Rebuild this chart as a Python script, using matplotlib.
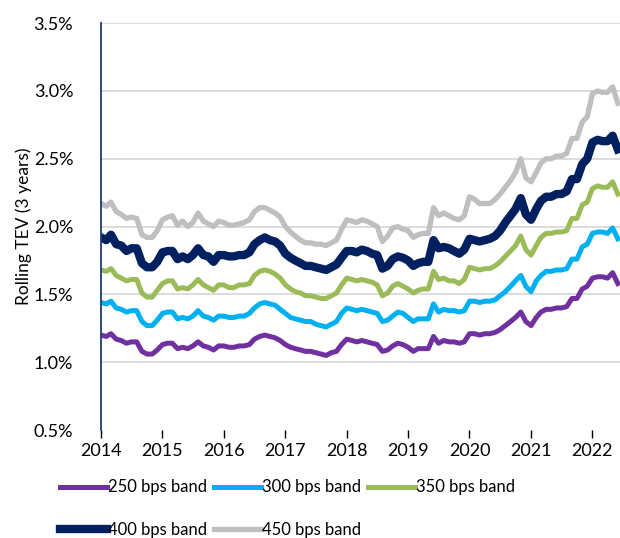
import numpy as np
import pandas as pd
import matplotlib
matplotlib.use("Agg")
import matplotlib.pyplot as plt
import matplotlib.dates as mdates
from matplotlib.ticker import FuncFormatter

plt.rcParams["font.family"] = ["Lato", "DejaVu Sans"]

# monthly rolling 3y tracking error (%), Jan 2014 - Jun 2022
months = pd.date_range("2014-01-01", periods=102, freq="MS")

tev_250 = [
    1.20, 1.19, 1.21, 1.17, 1.16, 1.14, 1.15, 1.15, 1.08, 1.06, 1.06, 1.09,
    1.13, 1.14, 1.14, 1.10, 1.11, 1.10, 1.12, 1.15, 1.12, 1.11, 1.09, 1.12,
    1.12, 1.11, 1.11, 1.12, 1.12, 1.13, 1.17, 1.19, 1.20, 1.19, 1.18, 1.16,
    1.13, 1.11, 1.10, 1.09, 1.08, 1.08, 1.07, 1.06, 1.05, 1.07, 1.08, 1.13,
    1.17, 1.16, 1.15, 1.16, 1.15, 1.14, 1.13, 1.08, 1.09, 1.12, 1.14, 1.13,
    1.11, 1.08, 1.10, 1.10, 1.10, 1.19, 1.14, 1.16, 1.15, 1.15, 1.14, 1.15,
    1.21, 1.21, 1.20, 1.21, 1.21, 1.22, 1.24, 1.27, 1.30, 1.33, 1.37, 1.30,
    1.27, 1.33, 1.37, 1.39, 1.39, 1.40, 1.40, 1.41, 1.47, 1.47, 1.54, 1.56,
    1.62, 1.63, 1.63, 1.62, 1.66, 1.58,
]
tev_300 = [
    1.44, 1.43, 1.45, 1.40, 1.39, 1.37, 1.38, 1.38, 1.30, 1.27, 1.27, 1.31,
    1.36, 1.37, 1.37, 1.32, 1.33, 1.32, 1.34, 1.38, 1.34, 1.33, 1.31, 1.34,
    1.34, 1.33, 1.33, 1.34, 1.34, 1.36, 1.40, 1.43, 1.44, 1.43, 1.42, 1.39,
    1.36, 1.33, 1.32, 1.31, 1.30, 1.30, 1.28, 1.27, 1.26, 1.28, 1.30, 1.36,
    1.40, 1.39, 1.38, 1.39, 1.38, 1.37, 1.36, 1.30, 1.31, 1.34, 1.37, 1.36,
    1.33, 1.30, 1.32, 1.32, 1.32, 1.43, 1.37, 1.39, 1.38, 1.38, 1.37, 1.38,
    1.45, 1.45, 1.44, 1.45, 1.45, 1.46, 1.49, 1.52, 1.56, 1.60, 1.64, 1.56,
    1.52, 1.60, 1.64, 1.67, 1.67, 1.68, 1.68, 1.69, 1.76, 1.76, 1.85, 1.87,
    1.95, 1.96, 1.96, 1.95, 1.99, 1.91,
]
tev_350 = [
    1.68, 1.67, 1.69, 1.64, 1.62, 1.60, 1.61, 1.61, 1.51, 1.48, 1.48, 1.53,
    1.58, 1.60, 1.60, 1.54, 1.55, 1.54, 1.57, 1.61, 1.57, 1.55, 1.53, 1.57,
    1.57, 1.55, 1.55, 1.57, 1.57, 1.58, 1.64, 1.67, 1.68, 1.67, 1.65, 1.62,
    1.57, 1.54, 1.52, 1.51, 1.49, 1.49, 1.48, 1.47, 1.47, 1.49, 1.51, 1.57,
    1.62, 1.61, 1.60, 1.61, 1.60, 1.59, 1.57, 1.49, 1.51, 1.56, 1.58, 1.56,
    1.54, 1.51, 1.53, 1.54, 1.54, 1.67, 1.61, 1.62, 1.60, 1.60, 1.58, 1.61,
    1.70, 1.69, 1.68, 1.69, 1.69, 1.71, 1.74, 1.78, 1.82, 1.86, 1.93, 1.83,
    1.79, 1.86, 1.92, 1.95, 1.95, 1.96, 1.96, 1.97, 2.06, 2.06, 2.16, 2.18,
    2.28, 2.30, 2.29, 2.29, 2.33, 2.24,
]
tev_400 = [
    1.92, 1.90, 1.94, 1.87, 1.86, 1.82, 1.84, 1.84, 1.73, 1.70, 1.70, 1.74,
    1.81, 1.82, 1.82, 1.76, 1.78, 1.76, 1.79, 1.84, 1.79, 1.78, 1.74, 1.79,
    1.79, 1.78, 1.78, 1.79, 1.79, 1.81, 1.87, 1.90, 1.92, 1.90, 1.89, 1.86,
    1.80, 1.77, 1.75, 1.73, 1.71, 1.71, 1.70, 1.69, 1.68, 1.70, 1.72, 1.77,
    1.82, 1.82, 1.81, 1.83, 1.82, 1.80, 1.79, 1.69, 1.71, 1.76, 1.78, 1.77,
    1.75, 1.71, 1.73, 1.74, 1.74, 1.90, 1.84, 1.85, 1.84, 1.82, 1.80, 1.83,
    1.91, 1.90, 1.89, 1.90, 1.91, 1.93, 1.97, 2.03, 2.08, 2.13, 2.21, 2.09,
    2.05, 2.13, 2.19, 2.22, 2.22, 2.24, 2.24, 2.26, 2.35, 2.35, 2.46, 2.50,
    2.62, 2.64, 2.63, 2.63, 2.67, 2.57,
]
tev_450 = [
    2.17, 2.15, 2.18, 2.11, 2.09, 2.06, 2.07, 2.06, 1.94, 1.92, 1.92, 1.97,
    2.05, 2.07, 2.08, 2.01, 2.04, 2.00, 2.03, 2.10, 2.04, 2.02, 2.00, 2.04,
    2.03, 2.01, 2.01, 2.02, 2.03, 2.05, 2.11, 2.14, 2.14, 2.12, 2.10, 2.07,
    2.00, 1.96, 1.93, 1.90, 1.88, 1.88, 1.87, 1.87, 1.86, 1.88, 1.90, 1.98,
    2.05, 2.04, 2.03, 2.05, 2.04, 2.02, 2.00, 1.89, 1.93, 1.99, 2.00, 1.98,
    1.97, 1.92, 1.94, 1.95, 1.95, 2.14, 2.08, 2.10, 2.08, 2.06, 2.05, 2.08,
    2.22, 2.20, 2.17, 2.17, 2.17, 2.20, 2.24, 2.29, 2.34, 2.40, 2.50, 2.36,
    2.33, 2.40, 2.47, 2.50, 2.50, 2.52, 2.52, 2.54, 2.65, 2.65, 2.77, 2.81,
    2.98, 3.00, 2.99, 2.99, 3.03, 2.91,
]

labels = ["250 bps band", "300 bps band", "350 bps band", "400 bps band", "450 bps band"]
colors = ["#7030A0", "#00B0F0", "#9BBB59", "#002060", "#BFBFBF"]
widths = [3.6, 3.6, 3.6, 6.0, 3.8]
series = [tev_250, tev_300, tev_350, tev_400, tev_450]

fig = plt.figure(figsize=(6.2, 5.38), dpi=100)
ax = fig.add_axes([0.163, 0.2007, 0.837, 0.7563])

lines = []
for vals, lab, c, lw in zip(series, labels, colors, widths):
    ln, = ax.plot(months, vals, color=c, lw=lw, label=lab, solid_joinstyle="round")
    lines.append(ln)

ax.set_ylim(0.5, 3.5)
ax.set_yticks(np.arange(0.5, 3.51, 0.5))
ax.yaxis.set_major_formatter(FuncFormatter(lambda v, _: f"{v:.1f}%"))
ax.set_xlim(pd.Timestamp("2014-01-01"), pd.Timestamp("2022-06-14"))
ax.xaxis.set_major_locator(mdates.YearLocator())
ax.xaxis.set_major_formatter(mdates.DateFormatter("%Y"))

ax.yaxis.grid(True, color="#D9D9D9", lw=1.3)
ax.set_axisbelow(True)
ax.get_ygridlines()[0].set_visible(False)

for s in ["top", "right", "bottom"]:
    ax.spines[s].set_visible(False)
ax.spines["left"].set_color("#1F3B73")
ax.spines["left"].set_linewidth(1.3)

ax.tick_params(axis="y", length=0, pad=20, labelsize=13)
ax.tick_params(axis="x", length=6, width=1.0, color="#000000", pad=3, labelsize=13)

ax.set_ylabel("Rolling TEV (3 years)", fontsize=12.5, labelpad=1)

# legend is filled column by column, so order handles to read row by row
order = [0, 3, 1, 4, 2]
fig.legend([lines[i] for i in order], [labels[i] for i in order],
           loc="upper left", bbox_to_anchor=(0.097, 0.109), ncol=3, frameon=False,
           fontsize=12, handlelength=2.8, handletextpad=0.1, columnspacing=0.4,
           labelspacing=1.6, borderaxespad=0, borderpad=0)

fig.savefig("out.png", dpi=100)
